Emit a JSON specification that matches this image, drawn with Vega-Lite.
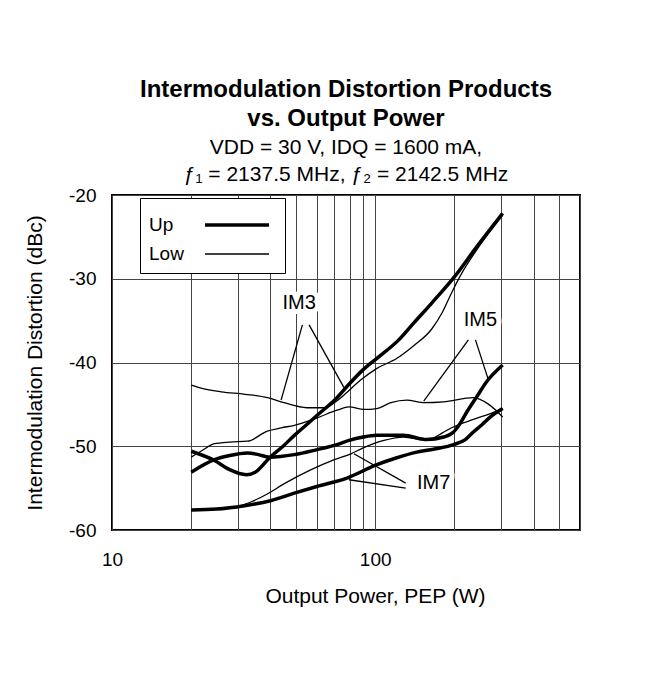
{
  "$schema": "https://vega.github.io/schema/vega-lite/v6.json",
  "width": 468,
  "height": 335,
  "autosize": {"type": "none"},
  "padding": {"left": 112, "top": 195, "right": 85, "bottom": 145},
  "background": "white",
  "title": {
    "text": ["Intermodulation Distortion Products", "vs. Output Power"],
    "subtitle": ["VDD = 30 V, IDQ = 1600 mA,", "ƒ₁ = 2137.5 MHz, ƒ₂ = 2142.5 MHz"],
    "fontSize": 24,
    "fontWeight": "bold",
    "lineHeight": 29,
    "subtitleFontSize": 21,
    "subtitleLineHeight": 27,
    "subtitlePadding": 6,
    "offset": 1,
    "anchor": "middle",
    "color": "black",
    "subtitleColor": "black",
    "font": "Liberation Sans",
    "subtitleFont": "Liberation Sans"
  },
  "datasets": {
    "curves": [
      {"p": 20, "db": -50.6, "im": "IM3", "side": "Up"},
      {"p": 24.5, "db": -51.7, "im": "IM3", "side": "Up"},
      {"p": 28, "db": -52.8, "im": "IM3", "side": "Up"},
      {"p": 32.4, "db": -53.4, "im": "IM3", "side": "Up"},
      {"p": 35, "db": -53.1, "im": "IM3", "side": "Up"},
      {"p": 39.6, "db": -51.4, "im": "IM3", "side": "Up"},
      {"p": 45, "db": -49.9, "im": "IM3", "side": "Up"},
      {"p": 49.3, "db": -48.7, "im": "IM3", "side": "Up"},
      {"p": 55, "db": -47.4, "im": "IM3", "side": "Up"},
      {"p": 60.2, "db": -46.3, "im": "IM3", "side": "Up"},
      {"p": 71.6, "db": -44.2, "im": "IM3", "side": "Up"},
      {"p": 79.5, "db": -42.6, "im": "IM3", "side": "Up"},
      {"p": 89, "db": -41.0, "im": "IM3", "side": "Up"},
      {"p": 101.5, "db": -39.5, "im": "IM3", "side": "Up"},
      {"p": 122.9, "db": -37.3, "im": "IM3", "side": "Up"},
      {"p": 140, "db": -35.3, "im": "IM3", "side": "Up"},
      {"p": 164, "db": -32.9, "im": "IM3", "side": "Up"},
      {"p": 198.5, "db": -29.9, "im": "IM3", "side": "Up"},
      {"p": 243, "db": -26.2, "im": "IM3", "side": "Up"},
      {"p": 305, "db": -22.2, "im": "IM3", "side": "Up"},

      {"p": 20, "db": -42.7, "im": "IM3", "side": "Low"},
      {"p": 22, "db": -43.1, "im": "IM3", "side": "Low"},
      {"p": 26, "db": -43.5, "im": "IM3", "side": "Low"},
      {"p": 32, "db": -43.8, "im": "IM3", "side": "Low"},
      {"p": 39, "db": -44.2, "im": "IM3", "side": "Low"},
      {"p": 45, "db": -44.8, "im": "IM3", "side": "Low"},
      {"p": 55, "db": -45.4, "im": "IM3", "side": "Low"},
      {"p": 64, "db": -45.4, "im": "IM3", "side": "Low"},
      {"p": 70, "db": -44.8, "im": "IM3", "side": "Low"},
      {"p": 76, "db": -43.9, "im": "IM3", "side": "Low"},
      {"p": 88, "db": -42.1, "im": "IM3", "side": "Low"},
      {"p": 101.5, "db": -40.7, "im": "IM3", "side": "Low"},
      {"p": 121, "db": -39.5, "im": "IM3", "side": "Low"},
      {"p": 140, "db": -38.0, "im": "IM3", "side": "Low"},
      {"p": 164, "db": -36.0, "im": "IM3", "side": "Low"},
      {"p": 180, "db": -34.0, "im": "IM3", "side": "Low"},
      {"p": 195, "db": -31.7, "im": "IM3", "side": "Low"},
      {"p": 211, "db": -29.6, "im": "IM3", "side": "Low"},
      {"p": 250, "db": -26.0, "im": "IM3", "side": "Low"},
      {"p": 305, "db": -22.4, "im": "IM3", "side": "Low"},

      {"p": 20, "db": -53.1, "im": "IM5", "side": "Up"},
      {"p": 24.5, "db": -51.6, "im": "IM5", "side": "Up"},
      {"p": 28, "db": -51.1, "im": "IM5", "side": "Up"},
      {"p": 32.7, "db": -50.8, "im": "IM5", "side": "Up"},
      {"p": 36, "db": -51.0, "im": "IM5", "side": "Up"},
      {"p": 39.6, "db": -51.3, "im": "IM5", "side": "Up"},
      {"p": 49.3, "db": -51.0, "im": "IM5", "side": "Up"},
      {"p": 60.2, "db": -50.4, "im": "IM5", "side": "Up"},
      {"p": 71.6, "db": -49.8, "im": "IM5", "side": "Up"},
      {"p": 79.5, "db": -49.3, "im": "IM5", "side": "Up"},
      {"p": 90, "db": -48.9, "im": "IM5", "side": "Up"},
      {"p": 101.5, "db": -48.7, "im": "IM5", "side": "Up"},
      {"p": 128, "db": -48.7, "im": "IM5", "side": "Up"},
      {"p": 157, "db": -49.2, "im": "IM5", "side": "Up"},
      {"p": 182, "db": -48.9, "im": "IM5", "side": "Up"},
      {"p": 198.5, "db": -48.3, "im": "IM5", "side": "Up"},
      {"p": 210, "db": -47.3, "im": "IM5", "side": "Up"},
      {"p": 222, "db": -46.0, "im": "IM5", "side": "Up"},
      {"p": 243, "db": -44.1, "im": "IM5", "side": "Up"},
      {"p": 265, "db": -42.3, "im": "IM5", "side": "Up"},
      {"p": 305, "db": -40.3, "im": "IM5", "side": "Up"},

      {"p": 20, "db": -51.3, "im": "IM5", "side": "Low"},
      {"p": 22, "db": -50.5, "im": "IM5", "side": "Low"},
      {"p": 24.5, "db": -49.7, "im": "IM5", "side": "Low"},
      {"p": 28, "db": -49.5, "im": "IM5", "side": "Low"},
      {"p": 32.7, "db": -49.4, "im": "IM5", "side": "Low"},
      {"p": 38.9, "db": -48.2, "im": "IM5", "side": "Low"},
      {"p": 44, "db": -47.8, "im": "IM5", "side": "Low"},
      {"p": 49.3, "db": -47.5, "im": "IM5", "side": "Low"},
      {"p": 60.2, "db": -46.6, "im": "IM5", "side": "Low"},
      {"p": 71.6, "db": -45.7, "im": "IM5", "side": "Low"},
      {"p": 79.5, "db": -45.3, "im": "IM5", "side": "Low"},
      {"p": 90.6, "db": -45.6, "im": "IM5", "side": "Low"},
      {"p": 101.5, "db": -45.5, "im": "IM5", "side": "Low"},
      {"p": 114.7, "db": -44.8, "im": "IM5", "side": "Low"},
      {"p": 131.8, "db": -44.5, "im": "IM5", "side": "Low"},
      {"p": 152.9, "db": -44.8, "im": "IM5", "side": "Low"},
      {"p": 181.9, "db": -44.7, "im": "IM5", "side": "Low"},
      {"p": 236, "db": -44.2, "im": "IM5", "side": "Low"},
      {"p": 270, "db": -45.0, "im": "IM5", "side": "Low"},
      {"p": 305, "db": -46.5, "im": "IM5", "side": "Low"},

      {"p": 20, "db": -57.6, "im": "IM7", "side": "Up"},
      {"p": 25, "db": -57.5, "im": "IM7", "side": "Up"},
      {"p": 31.9, "db": -57.1, "im": "IM7", "side": "Up"},
      {"p": 40, "db": -56.5, "im": "IM7", "side": "Up"},
      {"p": 49.3, "db": -55.6, "im": "IM7", "side": "Up"},
      {"p": 60, "db": -54.8, "im": "IM7", "side": "Up"},
      {"p": 78.1, "db": -53.8, "im": "IM7", "side": "Up"},
      {"p": 101.5, "db": -52.2, "im": "IM7", "side": "Up"},
      {"p": 120, "db": -51.4, "im": "IM7", "side": "Up"},
      {"p": 143.8, "db": -50.7, "im": "IM7", "side": "Up"},
      {"p": 170, "db": -50.3, "im": "IM7", "side": "Up"},
      {"p": 198.5, "db": -49.8, "im": "IM7", "side": "Up"},
      {"p": 220, "db": -49.2, "im": "IM7", "side": "Up"},
      {"p": 236, "db": -48.3, "im": "IM7", "side": "Up"},
      {"p": 255, "db": -47.4, "im": "IM7", "side": "Up"},
      {"p": 274, "db": -46.5, "im": "IM7", "side": "Up"},
      {"p": 305, "db": -45.5, "im": "IM7", "side": "Up"},

      {"p": 20, "db": -57.6, "im": "IM7", "side": "Low"},
      {"p": 25, "db": -57.5, "im": "IM7", "side": "Low"},
      {"p": 30, "db": -57.2, "im": "IM7", "side": "Low"},
      {"p": 34, "db": -56.6, "im": "IM7", "side": "Low"},
      {"p": 38.9, "db": -55.7, "im": "IM7", "side": "Low"},
      {"p": 45, "db": -54.5, "im": "IM7", "side": "Low"},
      {"p": 57.1, "db": -52.8, "im": "IM7", "side": "Low"},
      {"p": 70, "db": -51.6, "im": "IM7", "side": "Low"},
      {"p": 80.9, "db": -50.9, "im": "IM7", "side": "Low"},
      {"p": 90, "db": -50.2, "im": "IM7", "side": "Low"},
      {"p": 108, "db": -49.3, "im": "IM7", "side": "Low"},
      {"p": 128, "db": -48.9, "im": "IM7", "side": "Low"},
      {"p": 157, "db": -49.3, "im": "IM7", "side": "Low"},
      {"p": 180, "db": -48.4, "im": "IM7", "side": "Low"},
      {"p": 198, "db": -47.7, "im": "IM7", "side": "Low"},
      {"p": 236, "db": -46.8, "im": "IM7", "side": "Low"},
      {"p": 274, "db": -46.1, "im": "IM7", "side": "Low"},
      {"p": 305, "db": -45.5, "im": "IM7", "side": "Low"}
    ],
    "labels": [
      {"label": "IM3", "p": 51.4, "db": -32.9},
      {"label": "IM5", "p": 251, "db": -34.9},
      {"label": "IM7", "p": 166.7, "db": -54.4}
    ],
    "leaders": [
      {"p": 52.9, "db": -35.5, "p2": 43.9, "db2": -44.5},
      {"p": 56.1, "db": -35.5, "p2": 76.1, "db2": -43.0},
      {"p": 226, "db": -37.3, "p2": 152.9, "db2": -44.6},
      {"p": 240.4, "db": -37.3, "p2": 269.4, "db2": -42.1},
      {"p": 130.6, "db": -54.4, "p2": 83.0, "db2": -50.9},
      {"p": 130.6, "db": -55.0, "p2": 79.5, "db2": -54.0}
    ]
  },
  "layer": [
    {
      "data": {"name": "labels"},
      "mark": {"type": "text", "fontSize": 20, "stroke": "white", "strokeWidth": 10, "fill": "white", "strokeJoin": "round"},
      "encoding": {
        "x": {"field": "p", "type": "quantitative", "scale": {"type": "log", "domain": [10, 600], "nice": false}},
        "y": {"field": "db", "type": "quantitative", "scale": {"domain": [-60, -20], "nice": false, "zero": false}},
        "text": {"field": "label"}
      }
    },
    {
      "data": {"name": "curves"},
      "mark": {"type": "line", "interpolate": "monotone", "color": "black"},
      "encoding": {
        "x": {
          "field": "p", "type": "quantitative",
          "scale": {"type": "log", "domain": [10, 600], "nice": false},
          "axis": {
            "title": "Output Power, PEP (W)",
            "values": [10, 20, 30, 40, 50, 60, 70, 80, 90, 100, 200, 300, 400, 500, 600],
            "labelExpr": "datum.value == 10 || datum.value == 100 ? '' + datum.value : ''",
            "labelFlush": false,
            "labelBound": false,
            "labelPadding": 20,
            "titlePadding": 16,
            "titleX": 263
          }
        },
        "y": {
          "field": "db", "type": "quantitative",
          "scale": {"domain": [-60, -20], "nice": false, "zero": false},
          "axis": {
            "title": "Intermodulation Distortion (dBc)",
            "values": [-60, -50, -40, -30, -20],
            "labelExpr": "'' + datum.value",
            "labelPadding": 16,
            "titlePadding": 23
          }
        },
        "detail": {"field": "im"},
        "strokeWidth": {
          "field": "side", "type": "nominal",
          "scale": {"domain": ["Up", "Low"], "range": [3.5, 1.3]},
          "legend": {
            "title": null,
            "orient": "none",
            "legendX": 28,
            "legendY": 3,
            "strokeColor": "black",
            "fillColor": "white",
            "padding": 9,
            "labelFontSize": 19,
            "labelColor": "black",
            "symbolType": "M-1,0H3",
            "symbolSize": 1024,
            "symbolStrokeColor": "black",
            "symbolFillColor": "transparent",
            "rowPadding": 2,
            "labelOffset": -90,
            "symbolOffset": 54
          }
        }
      }
    },
    {
      "data": {"name": "leaders"},
      "mark": {"type": "rule", "color": "black", "strokeWidth": 1.3},
      "encoding": {
        "x": {"field": "p", "type": "quantitative", "scale": {"type": "log", "domain": [10, 600], "nice": false}},
        "y": {"field": "db", "type": "quantitative", "scale": {"domain": [-60, -20], "nice": false, "zero": false}},
        "x2": {"field": "p2"},
        "y2": {"field": "db2"}
      }
    },
    {
      "data": {"name": "labels"},
      "mark": {"type": "text", "fontSize": 20, "color": "black"},
      "encoding": {
        "x": {"field": "p", "type": "quantitative", "scale": {"type": "log", "domain": [10, 600], "nice": false}},
        "y": {"field": "db", "type": "quantitative", "scale": {"domain": [-60, -20], "nice": false, "zero": false}},
        "text": {"field": "label"}
      }
    }
  ],
  "config": {
    "font": "Liberation Sans",
    "view": {"stroke": "black", "strokeWidth": 2},
    "axis": {
      "ticks": false,
      "domain": false,
      "grid": true,
      "gridColor": "#444",
      "gridWidth": 1,
      "gridOpacity": 1,
      "labelFontSize": 19,
      "labelColor": "black",
      "titleFontSize": 21,
      "titleFontWeight": "normal",
      "titleColor": "black"
    }
  }
}
